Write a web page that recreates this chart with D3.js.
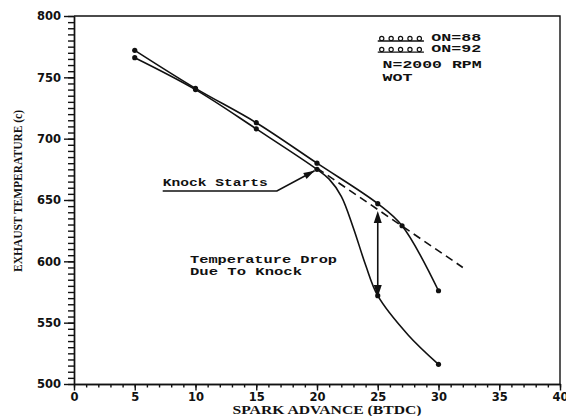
<!DOCTYPE html>
<meta charset="utf-8">
<style>
body { margin: 0; background: #fff; }
.axis text { font: bold 11.5px "DejaVu Sans", sans-serif; fill: #111; }
.axis path, .axis line { stroke: #111; stroke-width: 1.4; }
.ann { font-family: "Liberation Mono", monospace; font-weight: bold; font-size: 11.5px; fill: #111; }
.leg { font-size: 10.5px; }
.title { font-family: "Liberation Serif", serif; font-weight: bold; fill: #111; }
</style>
<svg width="566" height="416"></svg>
<script src="https://cdn.jsdelivr.net/npm/d3@7"></script>
<script>

// values
var on92X = [5, 10, 15, 20, 25, 27, 30],
    on92Y = [772, 741, 713, 680, 647, 629, 576];
var on88X = [5, 10, 15, 20, 25, 30],
    on88Y = [766, 740, 708, 675, 572, 516];
// extra points traced along the drawn ON=88 curve (no markers there)
var on88LineX = [5, 10, 15, 20, 21, 22, 23, 24, 25, 27.5, 30],
    on88LineY = [766, 740, 708, 675, 667, 653, 627, 597, 572, 540, 516];
var trendX = [20, 32],
    trendY = [676, 595];
var dropX = 25, dropTop = 641, dropBottom = 571;

var xTicks = [0, 5, 10, 15, 20, 25, 30, 35, 40],
    yTicks = [500, 550, 600, 650, 700, 750, 800];

var svg = d3.select("svg"),
    margin = {top: 16, right: 6, bottom: 32, left: 74},
    width = +svg.attr("width") - margin.left - margin.right,
    height = +svg.attr("height") - margin.top - margin.bottom;

var x = d3.scaleLinear().domain([0, 40]).range([margin.left, margin.left + width]),
    y = d3.scaleLinear().domain([500, 800]).range([margin.top + height, margin.top]);

// frame
svg.append("path")
    .attr("d", "M" + x(0) + "," + y(800) + "H" + x(40) + "V" + y(500))
    .attr("fill", "none").attr("stroke", "#111").attr("stroke-width", 1.4);

// minor ticks
svg.append("g").attr("class", "axis")
    .attr("transform", "translate(0," + y(500) + ")")
    .call(d3.axisBottom(x).tickValues(d3.range(0, 41, 1)).tickSize(3.5).tickSizeOuter(0).tickFormat(""));
svg.append("g").attr("class", "axis")
    .attr("transform", "translate(" + x(0) + ",0)")
    .call(d3.axisLeft(y).tickValues(d3.range(500, 801, 5)).tickSize(6).tickSizeOuter(0).tickFormat(""));

// major ticks
svg.append("g").attr("class", "axis")
    .attr("transform", "translate(0," + y(500) + ")")
    .call(d3.axisBottom(x).tickValues(xTicks).tickSize(6.5).tickPadding(2).tickSizeOuter(0));
svg.append("g").attr("class", "axis")
    .attr("transform", "translate(" + x(0) + ",0)")
    .call(d3.axisLeft(y).tickValues(yTicks).tickSize(10).tickPadding(3).tickSizeOuter(0));

// axis titles
svg.append("text").attr("class", "title")
    .attr("x", 327).attr("y", 414).attr("text-anchor", "middle")
    .attr("font-size", 11.5).attr("textLength", 189).attr("lengthAdjust", "spacingAndGlyphs")
    .text("SPARK ADVANCE (BTDC)");
svg.append("text").attr("class", "title")
    .attr("transform", "translate(22," + 191 + ") rotate(-90)")
    .attr("text-anchor", "middle")
    .attr("font-size", 12).attr("textLength", 162).attr("lengthAdjust", "spacingAndGlyphs")
    .text("EXHAUST TEMPERATURE (c)");

var line = d3.line()
    .x(function(d) { return x(d[0]); })
    .y(function(d) { return y(d[1]); })
    .curve(d3.curveCatmullRom.alpha(0.5));

var on92 = on92X.map(function(v, i) { return [v, on92Y[i]]; }),
    on88 = on88X.map(function(v, i) { return [v, on88Y[i]]; }),
    on88Line = on88LineX.map(function(v, i) { return [v, on88LineY[i]]; }),
    trend = trendX.map(function(v, i) { return [v, trendY[i]]; });

svg.append("path").datum(on92).attr("d", line)
    .attr("fill", "none").attr("stroke", "#111").attr("stroke-width", 1.6);
svg.append("path").datum(on88Line).attr("d", line)
    .attr("fill", "none").attr("stroke", "#111").attr("stroke-width", 1.6);
svg.append("path").datum(trend).attr("d", d3.line().x(function(d) { return x(d[0]); }).y(function(d) { return y(d[1]); }))
    .attr("fill", "none").attr("stroke", "#111").attr("stroke-width", 1.6)
    .attr("stroke-dasharray", "8,5");

svg.selectAll(".pt").data(on92.concat(on88))
  .enter().append("circle")
    .attr("class", "pt")
    .attr("cx", function(d) { return x(d[0]); })
    .attr("cy", function(d) { return y(d[1]); })
    .attr("r", 2.6)
    .attr("fill", "#111");

// arrowheads
function head(tx, ty, fx, fy, len, w) {
  var a = Math.atan2(ty - fy, tx - fx),
      bx = tx - len * Math.cos(a), by = ty - len * Math.sin(a),
      px = -Math.sin(a) * w / 2, py = Math.cos(a) * w / 2;
  svg.append("path")
      .attr("d", "M" + tx + "," + ty + "L" + (bx + px) + "," + (by + py) + "L" + (bx - px) + "," + (by - py) + "Z")
      .attr("fill", "#111");
}

// Knock Starts
svg.append("text").attr("class", "ann")
    .attr("x", x(7.3)).attr("y", y(661.4))
    .attr("textLength", 105).attr("lengthAdjust", "spacingAndGlyphs")
    .text("Knock Starts");
var tip = [x(19.8), y(673.8)], elbow = [x(16.7), y(657.3)];
svg.append("path")
    .attr("d", "M" + x(7.3) + "," + elbow[1] + "L" + elbow[0] + "," + elbow[1] + "L" + tip[0] + "," + tip[1])
    .attr("fill", "none").attr("stroke", "#111").attr("stroke-width", 1.6);
head(tip[0], tip[1], elbow[0], elbow[1], 11, 7);

// Temperature drop
svg.append("text").attr("class", "ann")
    .attr("x", x(9.55)).attr("y", y(598.6))
    .attr("textLength", 147).attr("lengthAdjust", "spacingAndGlyphs")
    .text("Temperature Drop");
svg.append("text").attr("class", "ann")
    .attr("x", x(9.55)).attr("y", y(589.2))
    .attr("textLength", 112).attr("lengthAdjust", "spacingAndGlyphs")
    .text("Due To Knock");
svg.append("line")
    .attr("x1", x(dropX)).attr("x2", x(dropX))
    .attr("y1", y(dropTop) + 6).attr("y2", y(dropBottom) - 6)
    .attr("stroke", "#111").attr("stroke-width", 1.6);
head(x(dropX), y(dropTop), x(dropX), y(dropBottom), 12, 8);
head(x(dropX), y(dropBottom), x(dropX), y(dropTop), 12, 8);

// legend
var legend = [["ON=88", 779.6], ["ON=92", 770.6]];
legend.forEach(function(l) {
  var by = y(l[1]);
  svg.append("line").attr("x1", x(25)).attr("x2", x(28.8)).attr("y1", by).attr("y2", by)
      .attr("stroke", "#111").attr("stroke-width", 1.3);
  d3.range(5).forEach(function(i) {
    svg.append("circle").attr("cx", x(25) + 4 + i * 9.4).attr("cy", by - 2.6).attr("r", 2.1)
        .attr("fill", "none").attr("stroke", "#111").attr("stroke-width", 1.2);
  });
  svg.append("text").attr("class", "ann leg")
      .attr("x", x(29.4)).attr("y", by)
      .attr("textLength", 50).attr("lengthAdjust", "spacingAndGlyphs")
      .text(l[0]);
});
svg.append("text").attr("class", "ann")
    .attr("x", x(25.4)).attr("y", y(757.6))
    .attr("textLength", 99).attr("lengthAdjust", "spacingAndGlyphs")
    .text("N=2000 RPM");
svg.append("text").attr("class", "ann")
    .attr("x", x(25.4)).attr("y", y(747))
    .attr("textLength", 30).attr("lengthAdjust", "spacingAndGlyphs")
    .text("WOT");

</script>
